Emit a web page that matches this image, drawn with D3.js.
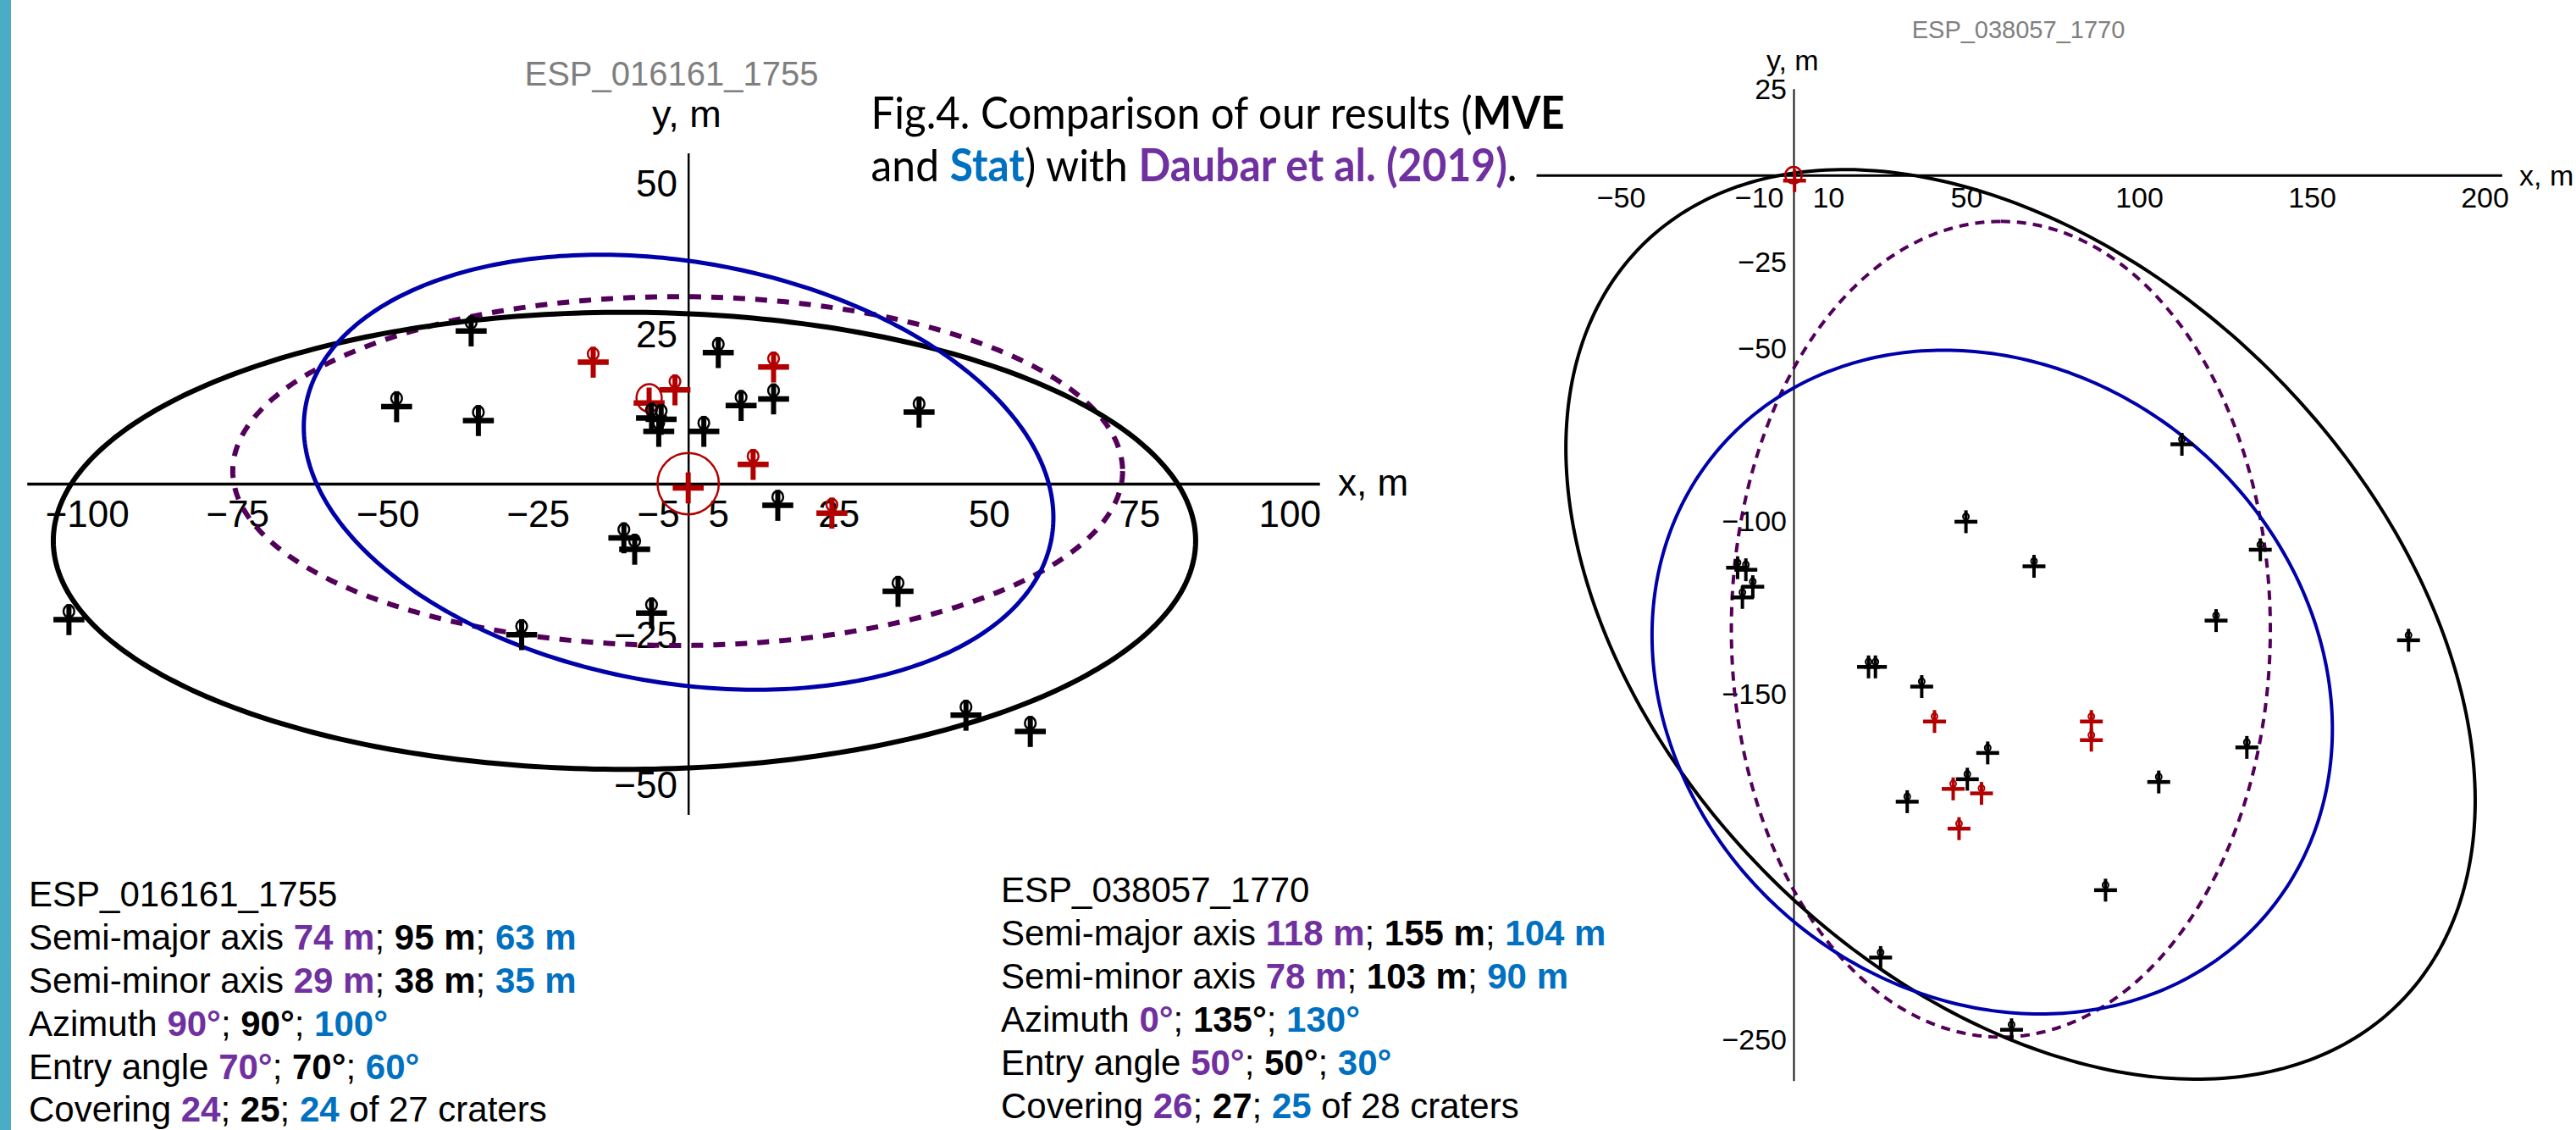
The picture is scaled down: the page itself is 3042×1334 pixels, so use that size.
<!DOCTYPE html>
<html>
<head>
<meta charset="utf-8">
<script src="https://cdn.jsdelivr.net/npm/d3@7"></script>
<style>
  body { margin: 0; background: #fff; }
</style>
</head>
<body>
<svg id="fig" width="3042" height="1334"></svg>
<script>
// ---------------- ESP_016161_1755 ----------------
const leftTitle = "ESP_016161_1755";
const leftXTicks = [-100, -75, -50, -25, -5, 5, 25, 50, 75, 100];
const leftYTicks = [50, 25, -25, -50];
const leftXDomain = [-110, 105];
const leftYDomain = [-55, 55];
// ellipse order: Daubar et al. (2019), MVE, Stat
const leftSemiMajor = [74, 95, 63];
const leftSemiMinor = [29, 38, 35];
const leftAzimuth = [90, 90, 100];
const leftEntryAngle = [70, 70, 60];
const leftCovering = [24, 25, 24];
const leftCraterTotal = 27;
const leftCenterX = [-1.75, -10.6, -1.6];
const leftCenterY = [2.1, -9.5, 1.9];
const leftBlackCraters = [
  [-36.1, 25.4], [5.0, 21.8], [-48.5, 12.8], [-34.9, 10.5], [-6.1, 10.9],
  [-4.5, 10.7], [-4.9, 8.7], [8.8, 13.0], [14.2, 14.1], [38.4, 11.9],
  [2.6, 8.7], [14.9, -3.6], [-10.7, -9.0], [-8.9, -10.9], [34.9, -17.9],
  [-103.0, -22.6], [-6.1, -21.5], [-27.7, -25.1], [46.2, -38.5], [56.9, -41.2]
];
const leftRedCraters = [[-15.8, 20.2], [14.2, 19.4], [-2.2, 15.6], [-6.5, 13.4], [10.8, 3.2], [23.9, -4.9]];
const leftRedDiameters = [1.8, 1.8, 1.8, 4.2, 1.8, 1.8];
const leftReference = [0, -0.7];
const leftReferenceRadius = 5.1;

// ---------------- ESP_038057_1770 ----------------
const rightTitle = "ESP_038057_1770";
const rightXTicks = [-50, -10, 10, 50, 100, 150, 200];
const rightYTicks = [25, -25, -50, -100, -150, -250];
const rightXDomain = [-74.5, 205];
const rightYDomain = [-262, 25];
const rightSemiMajor = [118, 155, 104];
const rightSemiMinor = [78, 103, 90];
const rightAzimuth = [0, 135, 130];
const rightEntryAngle = [50, 50, 30];
const rightCovering = [26, 27, 25];
const rightCraterTotal = 28;
const rightCenterX = [60.0, 65.7, 57.5];
const rightCenterY = [-131.4, -130.0, -146.7];
const rightBlackCraters = [
  [112.4, -77.9], [49.9, -100.3], [69.6, -113.2], [135.1, -108.4], [-16.2, -113.6],
  [-13.8, -114.2], [-11.8, -119.1], [-14.8, -122.2], [122.3, -128.9], [178.0, -134.6],
  [21.7, -142.3], [23.7, -142.3], [37.1, -148.0], [56.2, -167.2], [131.2, -165.6],
  [50.3, -174.8], [105.7, -175.6], [32.9, -181.3], [90.3, -206.9], [25.2, -226.4],
  [63.1, -247.3]
];
const rightRedCraters = [[40.8, -158.1], [86.2, -158.1], [86.2, -163.5], [46.2, -177.6], [54.4, -178.9], [47.9, -189.1]];
const rightRedDiameters = [1.7, 1.7, 1.7, 1.7, 1.7, 1.7];
const rightReference = [0.3, -1.6];
const rightReferenceRadius = 2.4;

const ellipseNames = ["Daubar", "MVE", "Stat"];

// ---------------- styling ----------------
const SANS = "'Liberation Sans', Arial, sans-serif";
const CAPTION_FONT = "Lato, 'Open Sans', sans-serif";
const PURPLE = "#7030a0", BLUE = "#0070c0", RED = "#b20000";
const ellipseStyle = {
  Daubar: { stroke: "#52005a", dash: true },
  MVE: { stroke: "#000000", dash: false },
  Stat: { stroke: "#0000aa", dash: false }
};

const svg = d3.select("#fig");
svg.append("rect").attr("width", 3042).attr("height", 1334).attr("fill", "#fff");
svg.append("rect").attr("x", 0).attr("y", 0).attr("width", 13).attr("height", 1334).attr("fill", "#4bacc6");

function makeScales(x0, y0, k, xd, yd) {
  return {
    x: d3.scaleLinear().domain(xd).range([x0 + xd[0] * k, x0 + xd[1] * k]),
    y: d3.scaleLinear().domain(yd).range([y0 - yd[0] * k, y0 - yd[1] * k]),
    k
  };
}

// points of an ellipse whose major axis points along the azimuth (clockwise from +y)
function ellipsePoints(cx, cy, a, b, az) {
  const r = az * Math.PI / 180, ux = Math.sin(r), uy = Math.cos(r);
  return d3.range(0, 360, 1).map(i => {
    const t = i * Math.PI / 180, p = a * Math.cos(t), q = b * Math.sin(t);
    return [cx + p * ux + q * uy, cy + p * uy - q * ux];
  });
}

function drawChart(cfg) {
  const sc = cfg.sc;
  const g = svg.append("g");

  // axes through the origin, labels only
  const ax = g.append("g").attr("transform", `translate(0,${sc.y(0)})`)
    .call(d3.axisBottom(sc.x).tickValues(cfg.xTicks).tickSize(0).tickSizeOuter(0).tickPadding(cfg.xPad));
  ax.attr("font-size", cfg.fs).attr("font-family", SANS);
  ax.select(".domain").attr("stroke", "#000").attr("stroke-width", cfg.xAxisW);
  ax.selectAll("text").attr("fill", "#000");

  const ay = g.append("g").attr("transform", `translate(${sc.x(0)},0)`)
    .call(d3.axisLeft(sc.y).tickValues(cfg.yTicks).tickSize(0).tickSizeOuter(0).tickPadding(cfg.yPad));
  ay.attr("font-size", cfg.fs).attr("font-family", SANS);
  ay.select(".domain").attr("stroke", "#000").attr("stroke-width", cfg.yAxisW);
  ay.selectAll("text").attr("fill", "#000").attr("dy", "0.36em");

  // dispersion ellipses
  const line = d3.line().x(d => sc.x(d[0])).y(d => sc.y(d[1])).curve(d3.curveLinearClosed);
  ellipseNames.forEach((name, i) => {
    const st = ellipseStyle[name];
    g.append("path")
      .attr("d", line(ellipsePoints(cfg.cx[i], cfg.cy[i], cfg.a[i], cfg.b[i], cfg.az[i])))
      .attr("fill", "none")
      .attr("stroke", st.stroke)
      .attr("stroke-width", name === "Stat" ? cfg.blueW : cfg.lineW)
      .attr("stroke-dasharray", st.dash ? cfg.dash : null);
  });

  // reference crater with ring
  g.append("circle")
    .attr("cx", sc.x(0)).attr("cy", sc.y(0))
    .attr("r", cfg.refRadius * sc.k)
    .attr("fill", "none").attr("stroke", RED).attr("stroke-width", cfg.ringW);

  const m = cfg.marker;
  function markers(pts, diam, color) {
    const grp = g.append("g").selectAll("g").data(pts.map((p, i) => ({ p, d: diam ? diam[i] : null })))
      .join("g")
      .attr("transform", d => `translate(${sc.x(d.p[0])},${sc.y(d.p[1])})`);
    grp.append("line").attr("x1", 0).attr("x2", 0).attr("y1", -m.h).attr("y2", m.h)
      .attr("stroke", color).attr("stroke-width", m.vw);
    grp.append("line").attr("x1", -m.h).attr("x2", m.h).attr("y1", 0).attr("y2", 0)
      .attr("stroke", color).attr("stroke-width", m.hw);
    grp.filter(d => d.d !== null).append("ellipse")
      .attr("cx", 0)
      .attr("cy", d => { const r = d.d / 2 * sc.k; return r > 10 ? -6 : -(r + m.gap); })
      .attr("rx", d => d.d / 2 * sc.k)
      .attr("ry", d => d.d / 2 * sc.k * 1.1)
      .attr("fill", "none").attr("stroke", color).attr("stroke-width", m.loopW);
  }
  markers([cfg.reference], null, RED);
  markers(cfg.red, cfg.redDiam, RED);
  markers(cfg.black, cfg.black.map(() => cfg.blackDiam), "#000");

  // axis names and title
  g.append("text").attr("x", cfg.xName[0]).attr("y", cfg.xName[1])
    .attr("font-family", SANS).attr("font-size", cfg.fs).text("x, m");
  g.append("text").attr("x", cfg.yName[0]).attr("y", cfg.yName[1])
    .attr("font-family", SANS).attr("font-size", cfg.yNameFs).text("y, m");
  g.append("text").attr("x", cfg.titlePos[0]).attr("y", cfg.titlePos[1])
    .attr("text-anchor", "middle").attr("fill", "#7f7f7f")
    .attr("font-family", SANS).attr("font-size", cfg.titleFs).text(cfg.title);
}

drawChart({
  sc: makeScales(812.7, 571, 7.1, leftXDomain, leftYDomain),
  xTicks: leftXTicks, yTicks: leftYTicks,
  fs: 44, xPad: 19.5, yPad: 12.7, xAxisW: 3.5, yAxisW: 2.5,
  cx: leftCenterX, cy: leftCenterY, a: leftSemiMajor, b: leftSemiMinor, az: leftAzimuth,
  lineW: 6, blueW: 5, dash: "14,12",
  refRadius: leftReferenceRadius, ringW: 2.5, reference: leftReference,
  red: leftRedCraters, redDiam: leftRedDiameters, black: leftBlackCraters, blackDiam: 1.8,
  marker: { h: 18.3, vw: 6, hw: 6.5, loopW: 2.5, gap: 3.5 },
  xName: [1580, 585], yName: [770, 150], yNameFs: 45,
  title: leftTitle, titlePos: [793, 100.7], titleFs: 40
});

drawChart({
  sc: makeScales(2118, 206.7, 4.08, rightXDomain, rightYDomain),
  xTicks: rightXTicks, yTicks: rightYTicks,
  fs: 34, xPad: 14.2, yPad: 8, xAxisW: 3, yAxisW: 1.8,
  cx: rightCenterX, cy: rightCenterY, a: rightSemiMajor, b: rightSemiMinor, az: rightAzimuth,
  lineW: 4, blueW: 4, dash: "11,8",
  refRadius: rightReferenceRadius, ringW: 2.5, reference: rightReference,
  red: rightRedCraters, redDiam: rightRedDiameters, black: rightBlackCraters, blackDiam: 1.7,
  marker: { h: 13.5, vw: 4, hw: 4.5, loopW: 2, gap: 2.5 },
  xName: [2975, 219], yName: [2086, 83], yNameFs: 34,
  title: rightTitle, titlePos: [2383.5, 44.6], titleFs: 29
});

// ---------------- caption ----------------
const cap1 = svg.append("text").attr("x", 1028.6).attr("y", 151.7)
  .attr("font-family", CAPTION_FONT).attr("font-size", 53)
  .attr("textLength", 819).attr("lengthAdjust", "spacingAndGlyphs");
cap1.append("tspan").text("Fig.4. Comparison of our results (");
cap1.append("tspan").attr("font-weight", "bold").text("MVE");

const cap2 = svg.append("text").attr("x", 1028.6).attr("y", 214)
  .attr("font-family", CAPTION_FONT).attr("font-size", 53)
  .attr("textLength", 763).attr("lengthAdjust", "spacingAndGlyphs");
cap2.append("tspan").text("and ");
cap2.append("tspan").attr("font-weight", "bold").attr("fill", BLUE).text("Stat");
cap2.append("tspan").text(") with ");
cap2.append("tspan").attr("font-weight", "bold").attr("fill", PURPLE).text("Daubar et al. (2019)");
cap2.append("tspan").text(".");

// ---------------- parameter summaries ----------------
function summary(x, baselines, title, rows) {
  svg.append("text").attr("x", x).attr("y", baselines[0])
    .attr("font-family", SANS).attr("font-size", 42).text(title);
  rows.forEach((row, i) => {
    const t = svg.append("text").attr("x", x).attr("y", baselines[i + 1])
      .attr("font-family", SANS).attr("font-size", 42);
    t.append("tspan").text(row.label);
    t.append("tspan").attr("font-weight", "bold").attr("fill", PURPLE).text(row.v[0]);
    t.append("tspan").text("; ");
    t.append("tspan").attr("font-weight", "bold").text(row.v[1]);
    t.append("tspan").text("; ");
    t.append("tspan").attr("font-weight", "bold").attr("fill", BLUE).text(row.v[2]);
    if (row.suffix) t.append("tspan").text(row.suffix);
  });
}

function rowsFor(maj, min, az, entry, cov, total) {
  return [
    { label: "Semi-major axis ", v: maj.map(d => d + " m") },
    { label: "Semi-minor axis ", v: min.map(d => d + " m") },
    { label: "Azimuth ", v: az.map(d => d + "°") },
    { label: "Entry angle ", v: entry.map(d => d + "°") },
    { label: "Covering ", v: cov.map(String), suffix: " of " + total + " craters" }
  ];
}

summary(34, [1070, 1121, 1172, 1223, 1274, 1324], leftTitle,
  rowsFor(leftSemiMajor, leftSemiMinor, leftAzimuth, leftEntryAngle, leftCovering, leftCraterTotal));
summary(1182, [1065, 1116, 1167, 1218, 1269, 1320], rightTitle,
  rowsFor(rightSemiMajor, rightSemiMinor, rightAzimuth, rightEntryAngle, rightCovering, rightCraterTotal));
</script>
</body>
</html>
